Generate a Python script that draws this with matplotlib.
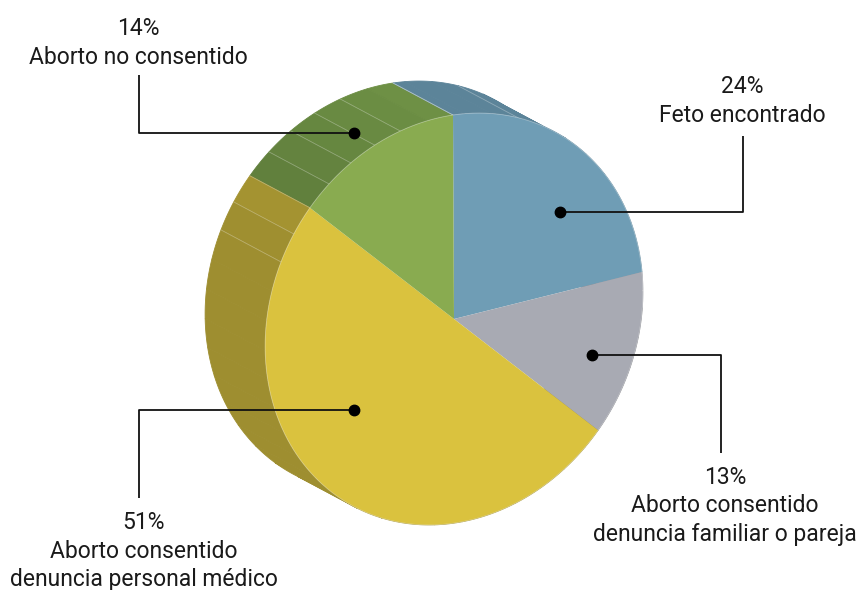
import numpy as np
import matplotlib.pyplot as plt
from matplotlib.colors import to_rgb
from matplotlib.transforms import Affine2D

# categories, clockwise from 12 o'clock
labels = ['Feto encontrado',
          'Aborto consentido\ndenuncia familiar o pareja',
          'Aborto consentido\ndenuncia personal médico',
          'Aborto no consentido']
pct = [24, 13, 51, 14]

colors = ['#6f9db5', '#a8aab3', '#dac23e', '#89ab50']
side_colors = ['#557a8e', '#8a8c93', '#b09e35', '#668640']

W, H = 864, 590
# the pie face is a unit circle seen at a tilt (pixel units, y up)
C = np.array([454.0, 271.0])
U = np.array([188.9, 28.3])
V = np.array([-1.0, 204.0])
D = np.array([-60.0, 32.0])      # depth of the extruded side

face = Affine2D(np.array([[U[0], V[0], C[0]],
                          [U[1], V[1], C[1]],
                          [0, 0, 1]]))


def rim(t):
    return C[:, None] + np.outer(U, np.cos(t)) + np.outer(V, np.sin(t))


fig = plt.figure(figsize=(W / 100, H / 100), dpi=100)
ax = fig.add_axes([0, 0, 1, 1])

wedges, _ = ax.pie(pct, colors=colors, startangle=90, counterclock=False,
                   radius=1, center=(0, 0), wedgeprops=dict(linewidth=0))
for w in wedges:
    w.set_transform(face + ax.transData)
    w.set_zorder(3)

# slice boundaries in degrees on the unit circle
bounds = 90 - 360 * np.concatenate([[0], np.cumsum(pct)]) / np.sum(pct)
grid = bounds[3] + 8.3 * np.arange(-10, 50)
grid = grid[(grid > bounds[-1]) & (grid < bounds[0])]
grid = np.array([g for g in grid if np.min(np.abs(bounds - g)) > 3])
cuts = np.sort(np.concatenate([bounds, grid]))

# side facets
for a0, a1 in zip(cuts[:-1], cuts[1:]):
    mid = (a0 + a1) / 2
    i = int(np.searchsorted(-bounds, -mid) - 1)
    f = np.clip(1 + 0.003 * (120 - mid % 360), 0.9, 1.08)
    c = np.clip(np.array(to_rgb(side_colors[i])) * f, 0, 1)
    t = np.radians(np.linspace(a0, a1, 12))
    front = rim(t)
    back = rim(t[::-1]) + D[:, None]
    xy = np.concatenate([front, back], axis=1)
    ax.fill(xy[0], xy[1], color=c, lw=0.6, ec=c, zorder=1)

# faint seams on the side
for g in np.concatenate([grid, bounds]):
    a = g % 360
    if not (104 < a < 160 or 68 < a < 76 or abs(a - 90) < 1):
        continue
    p = rim(np.radians([g]))[:, 0]
    ax.plot([p[0], p[0] + D[0]], [p[1], p[1] + D[1]],
            color='white', alpha=0.3, lw=0.6, zorder=2)

edge = rim(np.radians(np.linspace(0, 360, 361)))
ax.plot(edge[0], edge[1], color='white', alpha=0.35, lw=0.6, zorder=3.5)

# leader lines: dot, elbow, end of line (pixels, y down); text centre x and first baseline
leaders = [
    ((560, 212), (743, 212), (743, 136), 742, 93),
    ((592, 355), (721, 355), (721, 453), 725, 484),
    ((354, 410), (139, 410), (139, 498), 144, 529),
    ((354, 133), (139, 133), (139, 75), 138, 35),
]

for (dot, elbow, end, tx, ty), p, lab in zip(leaders, pct, labels):
    xs = [dot[0], elbow[0], end[0]]
    ys = [H - dot[1], H - elbow[1], H - end[1]]
    ax.plot(xs, ys, color='#111111', lw=1.3, zorder=4, solid_capstyle='butt')
    ax.plot(xs[0], ys[0], 'o', color='black', ms=7.5, zorder=5)
    for k, line in enumerate(f'{p}%\n{lab}'.split('\n')):
        ax.text(tx, H - (ty + 28.5 * k), line, ha='center', va='baseline',
                fontsize=16.5, family='Roboto', color='#1a1a1a', zorder=6)

ax.set_aspect('auto')
ax.set_xlim(0, W)
ax.set_ylim(0, H)
ax.axis('off')

fig.savefig('out.png', dpi=100)
